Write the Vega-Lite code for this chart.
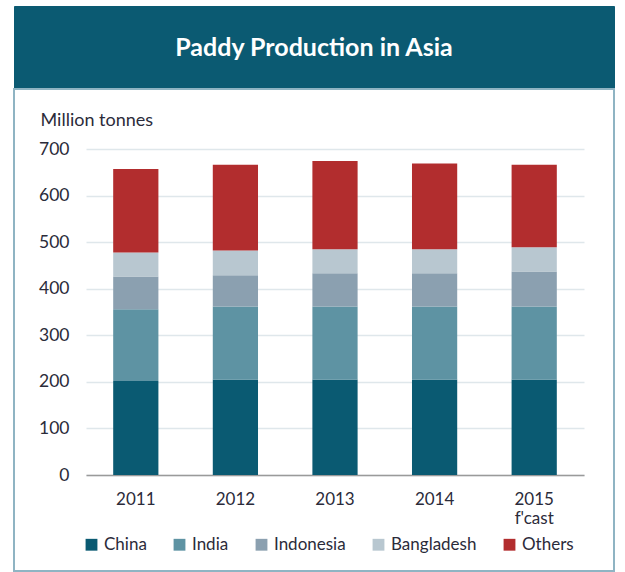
{
  "$schema": "https://vega.github.io/schema/vega-lite/v6.json",
  "padding": {"left": 13, "top": 5, "right": 0, "bottom": 0},
  "autosize": {"type": "pad"},
  "background": "white",
  "spacing": 0,
  "bounds": "flush",
  "config": {"font": "Lato", "concat": {"spacing": 0}},
  "vconcat": [
    {
      "width": 600,
      "height": 83,
      "view": {"fill": "#0b5a72", "stroke": "#0b5a72"},
      "data": {"values": [{"title": "Paddy Production in Asia"}]},
      "mark": {"type": "text", "color": "white", "fontSize": 25, "fontWeight": "bold", "font": "Lato"},
      "encoding": {"text": {"field": "title", "type": "nominal"}}
    },
    {
      "width": 600,
      "height": 482,
      "view": {"stroke": "#8fb4c3", "strokeWidth": 2},
      "data": {
        "values": [
          {"year": "2011", "country": "China", "rank": 1, "value": 202},
          {"year": "2011", "country": "India", "rank": 2, "value": 154},
          {"year": "2011", "country": "Indonesia", "rank": 3, "value": 70},
          {"year": "2011", "country": "Bangladesh", "rank": 4, "value": 52},
          {"year": "2011", "country": "Others", "rank": 5, "value": 179},
          {"year": "2012", "country": "China", "rank": 1, "value": 205},
          {"year": "2012", "country": "India", "rank": 2, "value": 157},
          {"year": "2012", "country": "Indonesia", "rank": 3, "value": 67},
          {"year": "2012", "country": "Bangladesh", "rank": 4, "value": 53},
          {"year": "2012", "country": "Others", "rank": 5, "value": 184},
          {"year": "2013", "country": "China", "rank": 1, "value": 205},
          {"year": "2013", "country": "India", "rank": 2, "value": 157},
          {"year": "2013", "country": "Indonesia", "rank": 3, "value": 71},
          {"year": "2013", "country": "Bangladesh", "rank": 4, "value": 52},
          {"year": "2013", "country": "Others", "rank": 5, "value": 189},
          {"year": "2014", "country": "China", "rank": 1, "value": 205},
          {"year": "2014", "country": "India", "rank": 2, "value": 157},
          {"year": "2014", "country": "Indonesia", "rank": 3, "value": 71},
          {"year": "2014", "country": "Bangladesh", "rank": 4, "value": 52},
          {"year": "2014", "country": "Others", "rank": 5, "value": 184},
          {"year": "2015", "country": "China", "rank": 1, "value": 205},
          {"year": "2015", "country": "India", "rank": 2, "value": 157},
          {"year": "2015", "country": "Indonesia", "rank": 3, "value": 75},
          {"year": "2015", "country": "Bangladesh", "rank": 4, "value": 52},
          {"year": "2015", "country": "Others", "rank": 5, "value": 177}
        ]
      },
      "mark": {"type": "bar"},
      "encoding": {
        "x": {
          "field": "year",
          "type": "nominal",
          "scale": {"range": [72, 570], "paddingInner": 0.546, "paddingOuter": 0.273},
          "axis": {
            "orient": "bottom",
            "offset": -96,
            "title": null,
            "domainColor": "#9a9a9a",
            "domainWidth": 1.5,
            "ticks": false,
            "grid": false,
            "labelAngle": 0,
            "labelPadding": 16,
            "labelFontSize": 17,
            "labelColor": "#2b2b3a",
            "labelLineHeight": 19,
            "labelExpr": "datum.label == '2015' ? [\"2015\", \"f'cast\"] : datum.label"
          }
        },
        "y": {
          "field": "value",
          "type": "quantitative",
          "stack": "zero",
          "scale": {"domain": [0, 700], "range": [386, 60]},
          "axis": {
            "orient": "left",
            "offset": -72,
            "values": [0, 100, 200, 300, 400, 500, 600, 700],
            "domain": false,
            "ticks": false,
            "labelPadding": 17,
            "labelFontSize": 17.5,
            "labelColor": "#2b2b3a",
            "gridColor": "#dfe7eb",
            "gridWidth": 1.5,
            "title": "Million tonnes",
            "titleAngle": 0,
            "titleX": -46,
            "titleY": 31,
            "titleAlign": "left",
            "titleBaseline": "middle",
            "titleFontSize": 18,
            "titleFontWeight": "normal",
            "titleColor": "#2b2b3a"
          }
        },
        "order": {"field": "rank", "type": "quantitative"},
        "color": {
          "field": "country",
          "type": "nominal",
          "sort": ["China", "India", "Indonesia", "Bangladesh", "Others"],
          "scale": {
            "domain": ["China", "India", "Indonesia", "Bangladesh", "Others"],
            "range": ["#0a5a72", "#5e93a3", "#8ba0b0", "#b8c7d0", "#b22d2e"]
          },
          "legend": {
            "orient": "none",
            "legendX": 69,
            "legendY": 530,
            "direction": "horizontal",
            "title": null,
            "padding": 0,
            "symbolType": "square",
            "symbolSize": 140,
            "symbolStrokeWidth": 0,
            "symbolOpacity": 1,
            "labelFontSize": 17,
            "labelColor": "#2b2b3a",
            "labelOffset": 4,
            "columnPadding": 24
          }
        }
      }
    }
  ]
}
